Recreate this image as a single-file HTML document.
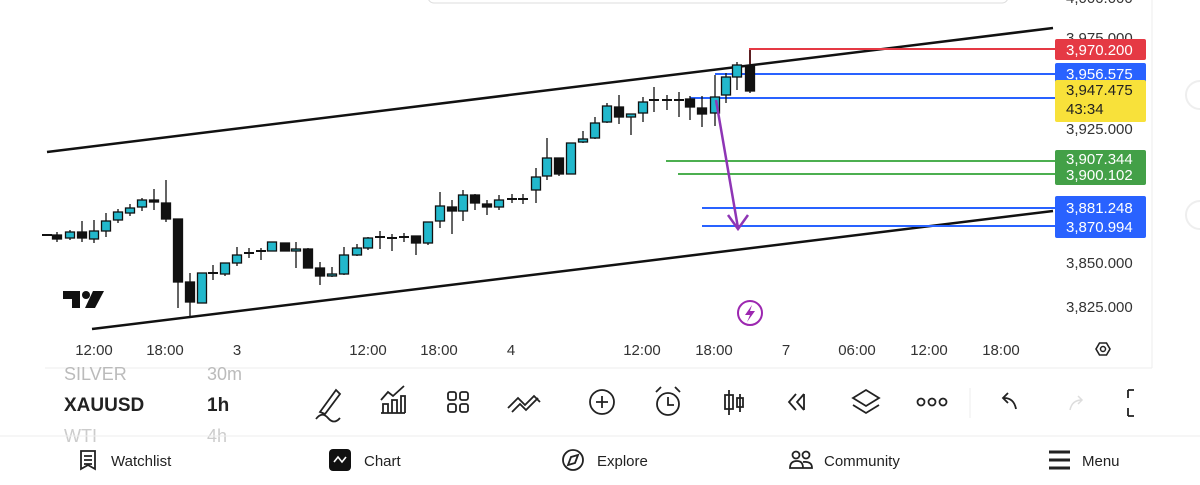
<!DOCTYPE html>
<html><head><meta charset="utf-8"><style>
html,body{margin:0;padding:0;width:1200px;height:485px;overflow:hidden;background:#fff;font-family:"Liberation Sans",sans-serif;}
svg{position:absolute;left:0;top:0}
</style></head><body>
<svg width="1200" height="485" viewBox="0 0 1200 485" xmlns="http://www.w3.org/2000/svg" font-family="Liberation Sans, sans-serif">
<rect width="1200" height="485" fill="#fff"/>
<!-- popup edge -->
<rect x="428" y="-10" width="580" height="13" rx="6" fill="#fff" stroke="#ddd"/>
<line x1="1152" y1="0" x2="1152" y2="368" stroke="#eee"/>
<circle cx="1200" cy="95" r="14" fill="none" stroke="#eee" stroke-width="2"/>
<circle cx="1200" cy="215" r="14" fill="none" stroke="#eee" stroke-width="2"/>
<!-- channel -->
<line x1="47" y1="152" x2="1053" y2="28" stroke="#111" stroke-width="2.5"/>
<line x1="92" y1="329" x2="1053" y2="211" stroke="#111" stroke-width="2.5"/>
<!-- levels -->
<polyline points="750,64 750,49 1055,49" fill="none" stroke="#e53944" stroke-width="2"/>
<line x1="715" y1="74" x2="1055" y2="74" stroke="#2962ff" stroke-width="2"/>
<line x1="690" y1="98" x2="1055" y2="98" stroke="#2962ff" stroke-width="2"/>
<line x1="666" y1="161" x2="1055" y2="161" stroke="#4caf50" stroke-width="2"/>
<line x1="678" y1="174" x2="1055" y2="174" stroke="#4caf50" stroke-width="2"/>
<line x1="702" y1="208" x2="1055" y2="208" stroke="#2962ff" stroke-width="2"/>
<line x1="702" y1="226" x2="1055" y2="226" stroke="#2962ff" stroke-width="2"/>
<g id="c" stroke="#111" stroke-width="1.3"></g>
<!-- arrow -->
<line x1="716" y1="100" x2="738" y2="228" stroke="#8e35b5" stroke-width="2.5"/>
<polyline points="728,215 738,229 748,215" fill="none" stroke="#8e35b5" stroke-width="2.5"/>
<!-- lightning -->
<circle cx="750" cy="313" r="12" fill="#fff" stroke="#9c27b0" stroke-width="2"/>
<path d="M752,305 L745,315 L750,315 L747,322 L755,311 L750,311 Z" fill="#9c27b0"/>
<!-- TV logo -->
<path d="M63,291 H80 V308 H72 V299 H63 Z" fill="#111"/>
<circle cx="86" cy="295" r="4" fill="#111"/>
<path d="M93,291 H104 L95,308 H85 Z" fill="#111"/>
<!-- price axis -->
<g font-size="15" fill="#333">
<text x="1066" y="3">4,000.000</text>
<text x="1066" y="43">3,975.000</text>
<text x="1066" y="134">3,925.000</text>
<text x="1066" y="268">3,850.000</text>
<text x="1066" y="312">3,825.000</text>
</g>
<rect x="1055" y="39" width="91" height="21" rx="2" fill="#e53944"/>
<text x="1066" y="55" font-size="15" fill="#fff">3,970.200</text>
<rect x="1055" y="63" width="91" height="20" rx="2" fill="#2962ff"/>
<text x="1066" y="79" font-size="15" fill="#fff">3,956.575</text>
<rect x="1055" y="80" width="91" height="42" rx="2" fill="#f8e13a"/>
<text x="1066" y="95" font-size="15" fill="#222">3,947.475</text>
<text x="1066" y="114" font-size="15" fill="#222">43:34</text>
<rect x="1055" y="150" width="91" height="35" rx="2" fill="#43a047"/>
<text x="1066" y="164" font-size="15" fill="#fff">3,907.344</text>
<text x="1066" y="180" font-size="15" fill="#fff">3,900.102</text>
<rect x="1055" y="196" width="91" height="42" rx="2" fill="#2962ff"/>
<text x="1066" y="213" font-size="15" fill="#fff">3,881.248</text>
<text x="1066" y="232" font-size="15" fill="#fff">3,870.994</text>
<!-- time axis -->
<g font-size="15" fill="#333" text-anchor="middle">
<text x="94" y="355">12:00</text><text x="165" y="355">18:00</text><text x="237" y="355">3</text>
<text x="368" y="355">12:00</text><text x="439" y="355">18:00</text><text x="511" y="355">4</text>
<text x="642" y="355">12:00</text><text x="714" y="355">18:00</text><text x="786" y="355">7</text>
<text x="857" y="355">06:00</text><text x="929" y="355">12:00</text><text x="1001" y="355">18:00</text>
</g>
<path d="M1096,349 L1099.5,343 L1106.5,343 L1110,349 L1106.5,355 L1099.5,355 Z" fill="none" stroke="#222" stroke-width="1.6"/>
<circle cx="1103" cy="349" r="2.5" fill="none" stroke="#222" stroke-width="1.5"/>
<!-- toolbar -->
<line x1="45" y1="368" x2="1152" y2="368" stroke="#eee"/>
<text x="64" y="380" font-size="18" fill="#bbb">SILVER</text><text x="207" y="380" font-size="18" fill="#bbb">30m</text>
<text x="64" y="411" font-size="19" font-weight="bold" fill="#222">XAUUSD</text><text x="207" y="411" font-size="19" font-weight="bold" fill="#222">1h</text>
<text x="64" y="442" font-size="18" fill="#ccc">WTI</text><text x="207" y="442" font-size="18" fill="#ccc">4h</text>
<g fill="none" stroke="#222" stroke-width="1.8">
<path d="M320,412 L336,390 L340,394 L325,414 Z M316,419 Q322,411 328,418 T340,418"/>
<path d="M381,413 H405 M383,413 V404 H388 V413 M392,413 V400 H397 V413 M401,413 V396 H405 V413 M381,400 L388,392 L393,396 L404,386"/>
<rect x="448" y="392" width="8" height="8" rx="2"/><rect x="460" y="392" width="8" height="8" rx="2"/><rect x="448" y="404" width="8" height="8" rx="2"/><rect x="460" y="404" width="8" height="8" rx="2"/>
<path d="M508,408 L518,398 L525,405 L534,396 L540,402 M512,412 L520,404 L526,410 L538,398"/>
<circle cx="602" cy="402" r="12"/><path d="M596,402 H608 M602,396 V408"/>
<circle cx="668" cy="404" r="11"/><path d="M668,397 V405 H674 M656,392 L661,387 M680,392 L675,387"/>
<path d="M729,390 V415 M725,395 H733 V409 H725 Z M740,394 V412 M737,398 H743 V407 H737 Z"/>
<path d="M796,394 L789,402 L796,410 M804,394 L797,402 L804,410 M804,394 V410"/>
<path d="M853,398 L866,390 L879,398 L866,406 Z M853,405 L866,413 L879,405"/>
<circle cx="921" cy="402" r="3.5"/><circle cx="932" cy="402" r="3.5"/><circle cx="943" cy="402" r="3.5"/>
<path d="M1016,409 Q1014,398 1004,398 M1008,393 L1003,398 L1008,403"/>
<path d="M1128,390 V398 M1128,408 V416 M1128,390 H1134 M1128,416 H1134"/>
</g>
<line x1="970" y1="388" x2="970" y2="418" stroke="#eee"/>
<path d="M1070,410 Q1072,400 1082,400 M1078,396 L1082,400 L1078,404" fill="none" stroke="#ddd" stroke-width="1.5"/>
<line x1="0" y1="436" x2="1200" y2="436" stroke="#eee"/>
<!-- bottom nav -->
<g fill="none" stroke="#222" stroke-width="1.8">
<path d="M81,451 H95 V469 L88,465 L81,469 Z M84,456 H92 M84,460 H92 M84,464 H92"/>
<circle cx="573" cy="460" r="10"/><path d="M578,455 L575,463 L568,465 L571,457 Z"/>
<circle cx="796" cy="455" r="3.5"/><circle cx="806" cy="455" r="3.5"/><path d="M790,468 Q790,461 797,461 Q803,461 803,468 Z M803,462 Q812,461 812,468 H803"/>
<path d="M1049,452 H1070 M1049,460 H1070 M1049,468 H1070" stroke-width="3"/>
</g>
<rect x="329" y="449" width="22" height="22" rx="4" fill="#111"/>
<path d="M334,462 L338,457 L342,462 L346,457" fill="none" stroke="#fff" stroke-width="1.6"/>
<g font-size="15" fill="#222">
<text x="111" y="466">Watchlist</text><text x="364" y="466">Chart</text><text x="597" y="466">Explore</text><text x="824" y="466">Community</text><text x="1082" y="466">Menu</text>
</g>
</svg>
<script>
var d=[[47,235,235,235,235],[57,235,239,232,242],[70,238,232,230,240],[82,232,238,221,242],[94,239,231,220,243],[106,231,221,213,237],[118,220,212,209,223],[130,213,208,204,216],[142,207,200,198,211],[154,200,202,189,210],[166,203,219,180,222],[178,219,282,219,308],[190,282,302,273,318],[202,303,273,273,303],[213,273,273,265,280],[225,274,263,263,276],[237,263,255,247,266],[249,253,253,248,258],[261,251,251,248,260],[272,251,242,242,251],[285,243,251,243,251],[296,251,249,242,268],[308,249,268,248,268],[320,268,276,262,285],[332,276,274,267,277],[344,274,255,247,275],[357,255,248,244,256],[368,248,238,237,250],[380,237,237,231,249],[392,238,238,234,251],[404,237,237,233,242],[416,236,243,236,255],[428,243,222,222,245],[440,221,206,192,228],[452,207,211,200,234],[463,211,195,190,221],[475,195,203,194,210],[487,204,207,200,215],[499,207,200,195,210],[512,199,199,194,203],[523,199,199,194,204],[536,190,177,168,203],[547,176,158,138,180],[559,158,174,158,176],[571,174,143,143,174],[583,142,139,131,143],[595,138,123,117,139],[607,122,106,103,123],[619,107,117,95,124],[631,117,114,114,135],[643,113,102,97,122],[654,100,100,87,112],[667,100,100,95,110],[679,100,100,92,117],[690,99,107,96,120],[702,108,114,96,127],[715,113,97,75,126],[726,95,77,73,103],[737,77,65,62,90],[750,66,91,50,93]];
var g=document.getElementById('c'),s='';
d.forEach(function(c){var x=c[0],o=c[1],cl=c[2],h=c[3],l=c[4];var up=cl<o;var t=Math.min(o,cl),b=Math.max(o,cl);
s+='<line x1="'+x+'" y1="'+h+'" x2="'+x+'" y2="'+l+'"/>';
if(b-t<2){s+='<line x1="'+(x-5)+'" y1="'+t+'" x2="'+(x+5)+'" y2="'+t+'" stroke-width="2"/>';}
else s+='<rect x="'+(x-4.5)+'" y="'+t+'" width="9" height="'+(b-t)+'" fill="'+(up?'#22b8cc':'#111')+'"/>';});
g.innerHTML=s;
</script>
</body></html>
